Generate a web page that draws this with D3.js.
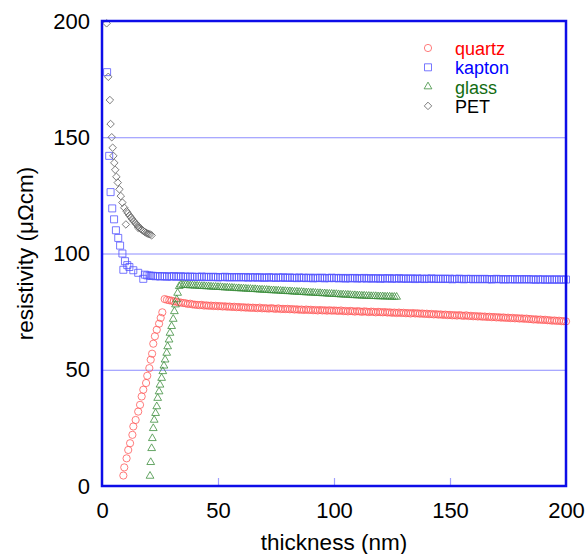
<!DOCTYPE html>
<html>
<head>
<meta charset="utf-8">
<script src="https://cdn.jsdelivr.net/npm/d3@7"></script>
<style>
  body { margin: 0; background: #fff; }
  text { font-family: "Liberation Sans", Arial, sans-serif; }
</style>
</head>
<body>
<div id="chart"></div>
<script>
// data: thickness (nm) / resistivity (uOhm cm)
var quartzX = [9.2, 9.6, 10.6, 11.3, 12.1, 13.1, 13.5, 14.5, 15.6, 16.4, 17.1, 17.8, 19.0, 19.5, 20.4, 21.0, 21.6, 22.1, 22.8, 23.6, 24.6, 25.3, 26.0,
  27, 28, 29, 30, 31, 32, 33, 34, 35, 36, 37, 38, 39, 40, 41, 42, 43, 44, 45, 46, 47, 48, 49, 50,
  51, 52, 53, 54, 55, 56, 57, 58, 59, 60, 61, 62, 63, 64, 65, 66, 67, 68, 69, 70,
  71, 72, 73, 74, 75, 76, 77, 78, 79, 80, 81, 82, 83, 84, 85, 86, 87, 88, 89, 90,
  91, 92, 93, 94, 95, 96, 97, 98, 99, 100, 101, 102, 103, 104, 105, 106, 107, 108, 109, 110,
  111, 112, 113, 114, 115, 116, 117, 118, 119, 120, 121, 122, 123, 124, 125, 126, 127, 128, 129, 130,
  131, 132, 133, 134, 135, 136, 137, 138, 139, 140, 141, 142, 143, 144, 145, 146, 147, 148, 149, 150,
  151, 152, 153, 154, 155, 156, 157, 158, 159, 160, 161, 162, 163, 164, 165, 166, 167, 168, 169, 170,
  171, 172, 173, 174, 175, 176, 177, 178, 179, 180, 181, 182, 183, 184, 185, 186, 187, 188, 189, 190,
  191, 192, 193, 194, 195, 196, 197, 198, 199, 200];
var quartzY = [4.5, 8.0, 11.9, 15.5, 18.4, 22.0, 25.6, 28.4, 32.0, 34.9, 38.5, 41.4, 44.3, 47.4, 50.7, 54.3, 56.9, 61.2, 64.4, 67.2, 69.8, 72.3, 74.7,
  80.4, 80.1, 79.9, 79.7, 79.4, 79.3, 79.0, 78.9, 78.7, 78.6, 78.3, 78.4, 78.1, 78.0, 77.9, 77.8, 77.9, 77.6, 77.7, 77.5, 77.6, 77.4, 77.5, 77.3,
  77.4, 77.2, 77.3, 77.1, 77.2, 77.0, 77.1, 76.9, 77.0, 76.8, 76.9, 76.7, 76.8, 76.6, 76.7, 76.6, 76.5, 76.7, 76.4, 76.5,
  76.4, 76.3, 76.5, 76.3, 76.2, 76.4, 76.1, 76.2, 76.1, 76.2, 76.0, 76.1, 75.9, 76.0, 75.8, 75.9, 75.7, 75.9, 75.7, 75.8,
  75.6, 75.7, 75.5, 75.7, 75.5, 75.6, 75.4, 75.6, 75.4, 75.5, 75.4, 75.3, 75.5, 75.2, 75.3, 75.1, 75.3, 75.2, 75.0, 75.2,
  75.1, 74.9, 75.1, 75.0, 74.8, 75.0, 74.9, 74.7, 74.9, 74.8, 74.7, 74.8, 74.6, 74.7, 74.5, 74.6, 74.4, 74.6, 74.4, 74.5,
  74.3, 74.4, 74.2, 74.4, 74.2, 74.3, 74.1, 74.2, 74.0, 74.1, 73.9, 74.0, 73.8, 73.9, 73.7, 73.8, 73.6, 73.7, 73.5, 73.6,
  73.4, 73.5, 73.3, 73.5, 73.3, 73.2, 73.4, 73.1, 73.2, 73.0, 73.1, 72.9, 73.0, 72.8, 72.9, 72.7, 72.8, 72.6, 72.7, 72.5,
  72.6, 72.4, 72.5, 72.3, 72.4, 72.2, 72.3, 72.1, 72.2, 72.0, 72.1, 71.9, 72.0, 71.8, 71.8, 71.6, 71.7, 71.5, 71.6, 71.4,
  71.5, 71.3, 71.3, 71.1, 71.2, 71.0, 71.1, 70.9, 70.9, 70.8];

var kaptonX = [2.2, 3.1, 3.7, 4.4, 5.2, 6.0, 7.0, 7.8, 8.8, 9.2, 9.9, 10.9, 11.8, 13.5, 15.6, 17.8, 18.5, 19.5, 20.5, 21.2,
  22, 23, 24, 25, 26, 27, 28, 29, 30, 31, 32, 33, 34, 35, 36, 37, 38, 39, 40,
  41, 42, 43, 44, 45, 46, 47, 48, 49, 50, 51, 52, 53, 54, 55, 56, 57, 58, 59, 60,
  61, 62, 63, 64, 65, 66, 67, 68, 69, 70, 71, 72, 73, 74, 75, 76, 77, 78, 79, 80,
  81, 82, 83, 84, 85, 86, 87, 88, 89, 90, 91, 92, 93, 94, 95, 96, 97, 98, 99, 100,
  101, 102, 103, 104, 105, 106, 107, 108, 109, 110, 111, 112, 113, 114, 115, 116, 117, 118, 119, 120,
  121, 122, 123, 124, 125, 126, 127, 128, 129, 130, 131, 132, 133, 134, 135, 136, 137, 138, 139, 140,
  141, 142, 143, 144, 145, 146, 147, 148, 149, 150, 151, 152, 153, 154, 155, 156, 157, 158, 159, 160,
  161, 162, 163, 164, 165, 166, 167, 168, 169, 170, 171, 172, 173, 174, 175, 176, 177, 178, 179, 180,
  181, 182, 183, 184, 185, 186, 187, 188, 189, 190, 191, 192, 193, 194, 195, 196, 197, 198, 199, 200];
var kaptonY = [178, 142, 126.4, 119.4, 114.7, 110, 106.7, 103.4, 100, 93, 96.7, 95, 94.2, 92.8, 91.7, 89.1, 90.9, 90.6, 90.5, 90.4,
  90.4, 90.2, 90.3, 90.1, 90.3, 90.2, 90.0, 90.2, 90.1, 90.3, 90.0, 90.1, 90.2, 90.0, 90.1, 89.9, 90.1, 90.0, 89.9,
  90.0, 89.9, 90.1, 89.8, 90.0, 89.9, 89.8, 90.0, 89.9, 89.7, 89.9, 89.8, 90.0, 89.8, 89.7, 89.9, 89.8, 89.7, 89.9, 89.8,
  89.7, 89.9, 89.6, 89.8, 89.7, 89.8, 89.6, 89.8, 89.7, 89.5, 89.7, 89.8, 89.6, 89.7, 89.5, 89.7, 89.6, 89.8, 89.5, 89.6,
  89.7, 89.5, 89.6, 89.4, 89.7, 89.5, 89.6, 89.4, 89.6, 89.5, 89.3, 89.6, 89.4, 89.5, 89.6, 89.3, 89.5, 89.4, 89.6, 89.4,
  89.5, 89.3, 89.5, 89.4, 89.2, 89.5, 89.3, 89.4, 89.5, 89.2, 89.4, 89.3, 89.5, 89.2, 89.4, 89.3, 89.2, 89.4, 89.3, 89.1,
  89.4, 89.2, 89.3, 89.4, 89.1, 89.3, 89.2, 89.4, 89.1, 89.3, 89.2, 89.1, 89.3, 89.2, 89.0, 89.3, 89.1, 89.2, 89.0, 89.2,
  89.1, 89.3, 89.0, 89.2, 89.1, 89.0, 89.2, 89.1, 89.0, 89.2, 88.9, 89.1, 89.0, 89.2, 89.0, 88.9, 89.1, 89.0, 89.1, 88.9,
  89.0, 89.1, 88.9, 89.0, 89.1, 88.9, 89.0, 88.8, 89.0, 89.1, 88.9, 89.0, 88.8, 88.9, 89.0, 88.8, 89.0, 88.9, 88.8, 89.0,
  88.9, 88.8, 89.0, 88.9, 88.8, 88.9, 88.7, 88.9, 88.8, 88.9, 88.7, 88.8, 88.9, 88.7, 88.8, 88.9, 88.7, 88.8, 88.8, 88.8];

var glassX = [20.7, 21.0, 21.4, 21.7, 22.1, 22.5, 23.1, 23.6, 24.0, 24.6, 25.0, 25.7, 26.2, 26.7, 27.2, 27.9, 28.3, 28.9, 29.3, 30.0, 30.7, 31.2, 31.7, 32.2, 32.6, 33.3,
  34, 35, 36, 37, 38, 39, 40, 41, 42, 43, 44, 45, 46, 47, 48, 49, 50,
  51, 52, 53, 54, 55, 56, 57, 58, 59, 60, 61, 62, 63, 64, 65, 66, 67, 68, 69, 70,
  71, 72, 73, 74, 75, 76, 77, 78, 79, 80, 81, 82, 83, 84, 85, 86, 87, 88, 89, 90,
  91, 92, 93, 94, 95, 96, 97, 98, 99, 100, 101, 102, 103, 104, 105, 106, 107, 108, 109, 110,
  111, 112, 113, 114, 115, 116, 117, 118, 119, 120, 121, 122, 123, 124, 125, 126, 127];
var glassY = [4.3, 10.2, 16.2, 20.5, 24.8, 28.4, 31.3, 34.2, 37.8, 40.6, 43.5, 46.4, 49.3, 51.7, 54.3, 57.2, 60.0, 62.9, 65.8, 68.7, 71.8, 75.1, 78.0, 80.2, 83.0, 85.9,
  86.5, 86.4, 86.4, 86.3, 86.2, 86.2, 86.1, 86.1, 86.0, 85.9, 85.9, 85.8, 85.8, 85.7, 85.6, 85.6, 85.5,
  85.5, 85.4, 85.3, 85.3, 85.2, 85.2, 85.1, 85.0, 85.0, 84.9, 84.9, 84.8, 84.7, 84.7, 84.6, 84.6, 84.5, 84.4, 84.4, 84.3,
  84.3, 84.2, 84.1, 84.1, 84.0, 84.0, 83.9, 83.8, 83.8, 83.7, 83.7, 83.6, 83.5, 83.5, 83.4, 83.4, 83.3, 83.2, 83.2, 83.1,
  83.1, 83.0, 82.9, 82.9, 82.8, 82.8, 82.7, 82.6, 82.6, 82.5, 82.5, 82.4, 82.3, 82.3, 82.2, 82.2, 82.1, 82.0, 82.0, 81.9,
  81.9, 81.8, 81.8, 81.7, 81.7, 81.6, 81.6, 81.6, 81.5, 81.5, 81.5, 81.4, 81.4, 81.4, 81.3, 81.3, 81.3];

var petX = [2.0, 2.7, 3.4, 3.7, 4.2, 4.6, 4.9, 5.3, 5.7, 6.2, 6.8, 7.5, 8.1, 8.8, 9.6, 10.3, 10.6, 11.2, 11.8, 12.4, 13.0, 13.6, 14.2, 14.8, 15.4, 15.6, 16.0, 16.6, 17.2, 17.8, 18.4, 19.0, 19.6, 20.2, 20.8, 21.4];
var petY = [199, 176, 166, 155.7, 150, 145.5, 142, 139, 136, 133, 130.5, 127.6, 124.7, 121.9, 119.7, 112.5, 118.2, 117.3, 116.4, 115.6, 114.8, 114.0, 113.3, 112.6, 111.9, 111.0, 111.3, 110.7, 110.2, 109.7, 109.3, 108.9, 108.6, 108.4, 108.2, 107.8];

var seriesNames = ["quartz", "kapton", "glass", "PET"];
var xTicks = [0, 50, 100, 150, 200];
var yTicks = [0, 50, 100, 150, 200];

var svgWidth = 587;
var svgHeight = 554;
var margin = { top: 21, right: 21, bottom: 68, left: 102 };
var width = svgWidth - margin.left - margin.right;
var height = svgHeight - margin.top - margin.bottom;

var svg = d3.select("#chart")
  .append("svg")
  .attr("width", svgWidth)
  .attr("height", svgHeight);

var chartGroup = svg.append("g")
  .attr("transform", `translate(${margin.left}, ${margin.top})`);

var xScale = d3.scaleLinear().domain([0, 200]).range([0, width]);
var yScale = d3.scaleLinear().domain([0, 200]).range([height, 0]);

// grid lines
var grid = chartGroup.append("g")
  .call(d3.axisLeft(yScale).tickValues([50, 100, 150]).tickSize(-width).tickFormat(""));
grid.select(".domain").remove();
grid.selectAll("line").attr("stroke", "#8c8cff").attr("stroke-width", 1);

// small inner ticks on the bottom
var innerTicks = chartGroup.append("g")
  .attr("transform", `translate(0, ${height})`)
  .call(d3.axisBottom(xScale).tickValues([50, 100, 150]).tickSize(-8).tickFormat(""));
innerTicks.select(".domain").remove();
innerTicks.selectAll("line").attr("stroke", "#a0a0ff").attr("stroke-width", 1.2);

// tick labels
var xAxis = chartGroup.append("g")
  .attr("transform", `translate(0, ${height})`)
  .call(d3.axisBottom(xScale).tickValues(xTicks).tickSize(0).tickPadding(16));
var yAxis = chartGroup.append("g")
  .call(d3.axisLeft(yScale).tickValues(yTicks).tickSize(0).tickPadding(12));
[xAxis, yAxis].forEach(function(a) {
  a.select(".domain").remove();
  a.selectAll("text")
    .attr("fill", "#000")
    .style("font-size", "22px")
    .style("font-family", "'Liberation Sans', Arial, sans-serif");
});

var styles = {
  quartz: { type: d3.symbolCircle, size: 41, color: "#ff5a5a", rot: 0 },
  kapton: { type: d3.symbolSquare, size: 49, color: "#5555ff", rot: 0 },
  glass: { type: d3.symbolTriangle, size: 26, color: "#3f8f3f", rot: 0 },
  PET: { type: d3.symbolSquare, size: 28, color: "#666666", rot: 45 }
};

function toPoints(xs, ys) {
  return xs.map(function(x, i) { return { x: x, y: ys[i] }; });
}

var seriesData = {
  quartz: toPoints(quartzX, quartzY),
  kapton: toPoints(kaptonX, kaptonY),
  glass: toPoints(glassX, glassY),
  PET: toPoints(petX, petY)
};

seriesNames.forEach(function(name) {
  var s = styles[name];
  chartGroup.append("g")
    .selectAll("path")
    .data(seriesData[name])
    .enter()
    .append("path")
    .attr("d", d3.symbol().type(s.type).size(s.size))
    .attr("transform", d => `translate(${xScale(d.x)}, ${yScale(d.y)}) rotate(${s.rot})`)
    .attr("fill", "none")
    .attr("stroke", s.color)
    .attr("stroke-width", 0.8);
});

// frame
chartGroup.append("rect")
  .attr("width", width)
  .attr("height", height)
  .attr("fill", "none")
  .attr("stroke", "#0d0de8")
  .attr("stroke-width", 2.5);

// legend
var legendColors = { quartz: "#ff0000", kapton: "#0000ff", glass: "#126c12", PET: "#000000" };
var legend = svg.append("g").attr("transform", "translate(428, 48)");
seriesNames.forEach(function(name, i) {
  var s = styles[name];
  legend.append("path")
    .attr("d", d3.symbol().type(s.type).size(s.size))
    .attr("transform", `translate(0, ${i * 19.3}) rotate(${s.rot})`)
    .attr("fill", "none")
    .attr("stroke", s.color)
    .attr("stroke-width", 0.8);
  legend.append("text")
    .attr("x", 27)
    .attr("y", i * 19.3 + 7)
    .attr("fill", legendColors[name])
    .style("font-size", "18px")
    .text(name);
});

// axis titles
svg.append("text")
  .attr("x", margin.left + width / 2)
  .attr("y", 550)
  .attr("text-anchor", "middle")
  .style("font-size", "22.5px")
  .text("thickness (nm)");

svg.append("text")
  .attr("transform", `translate(33, ${margin.top + height / 2}) rotate(-90)`)
  .attr("text-anchor", "middle")
  .style("font-size", "22.5px")
  .text("resistivity (μΩcm)");
</script>
</body>
</html>
